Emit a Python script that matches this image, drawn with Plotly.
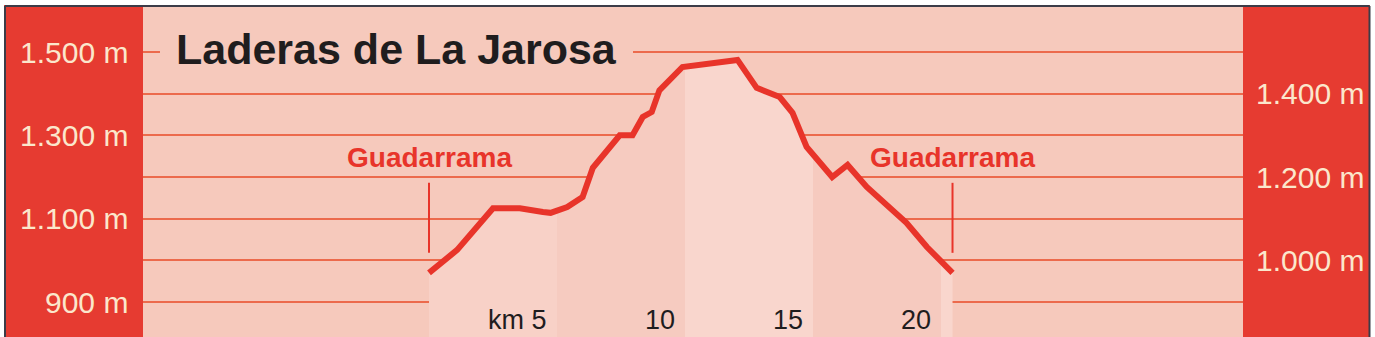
import plotly.graph_objects as go
import numpy as np

# ---- data ----
km = [0.0, 1.1, 2.5, 3.55, 4.45, 4.75, 5.4, 6.0, 6.4, 6.95, 7.45, 7.95, 8.35, 8.7,
      9.0, 9.9, 12.05, 12.8, 13.7, 14.2, 14.75, 15.75, 16.35, 17.1, 18.65, 19.45, 20.45]
elev = [970, 1025, 1125, 1125, 1116, 1114, 1128, 1152, 1222, 1265, 1300, 1300, 1344, 1356,
        1408, 1464, 1481, 1414, 1392, 1354, 1272, 1200, 1229, 1176, 1090, 1032, 970]

left_ticks = [900, 1100, 1300, 1500]
left_labels = ["900 m", "1.100 m", "1.300 m", "1.500 m"]
right_ticks = [1000, 1200, 1400]
right_labels = ["1.000 m", "1.200 m", "1.400 m"]
grid_vals = [900, 1000, 1100, 1200, 1300, 1400, 1500]
km_ticks = [5, 10, 15, 20]
km_labels = ["km 5", "10", "15", "20"]
band_edges = [0, 5, 10, 15, 20]
title = "Laderas de La Jarosa"
town = "Guadarrama"

# ---- styles ----
RED = "#e63b31"
PINK_BG = "#f6c9bc"
BAND_COLORS = ["#f8d1c7", "#f6cbc0", "#f9d6cd", "#f6cabf", "#f9d6cd"]
GRID = "#ec6a4c"
LINE = "#e8342a"
CREAM = "#fbe7cc"
SANS = "Liberation Sans, Arial, sans-serif"

W, H = 1375, 337
PX_PER_KM = 25.6
X0_PX = 429.0
PX_PER_M = 250.0 / 600.0
Y1500_PX = 52.0

x_range = [(0 - X0_PX) / PX_PER_KM, (W - X0_PX) / PX_PER_KM]
y_range = [1500 - (H - Y1500_PX) / PX_PER_M, 1500 + Y1500_PX / PX_PER_M]

def px2km(px):
    return (px - X0_PX) / PX_PER_KM

fig = go.Figure()

# filled bands under the profile
kx = np.array(km, dtype=float)
ey = np.array(elev, dtype=float)
edges = list(band_edges) + [km[-1]]
for i in range(len(edges) - 1):
    a, b = edges[i], edges[i + 1]
    if b <= a:
        continue
    inner = (kx > a) & (kx < b)
    xs = [a] + list(kx[inner]) + [b]
    ys = [float(np.interp(a, kx, ey))] + list(ey[inner]) + [float(np.interp(b, kx, ey))]
    fig.add_trace(go.Scatter(x=xs + [b, a], y=ys + [y_range[0] - 50, y_range[0] - 50],
                             fill="toself", fillcolor=BAND_COLORS[i % len(BAND_COLORS)],
                             line=dict(width=0), mode="lines", hoverinfo="skip",
                             showlegend=False))

# profile line
fig.add_trace(go.Scatter(x=km, y=elev, mode="lines",
                         line=dict(color=LINE, width=6), showlegend=False))

shapes = []
# title background box (hides the 1500 gridline behind the title)
shapes.append(dict(type="rect", xref="x", yref="y", layer="between",
                   x0=px2km(160), x1=px2km(633), y0=1500 - 25 / PX_PER_M, y1=1500 + 25 / PX_PER_M,
                   fillcolor=PINK_BG, line=dict(width=0)))
# red side panels
shapes.append(dict(type="rect", xref="x", yref="paper", layer="above",
                   x0=x_range[0], x1=px2km(143), y0=0, y1=1, fillcolor=RED, line=dict(width=0)))
shapes.append(dict(type="rect", xref="x", yref="paper", layer="above",
                   x0=px2km(1243), x1=x_range[1], y0=0, y1=1, fillcolor=RED, line=dict(width=0)))
# outer white margin + frame
shapes.append(dict(type="rect", xref="paper", yref="paper", layer="above",
                   x0=0, x1=4 / W, y0=0, y1=1, fillcolor="white", line=dict(width=0)))
shapes.append(dict(type="rect", xref="paper", yref="paper", layer="above",
                   x0=1370 / W, x1=1, y0=0, y1=1, fillcolor="white", line=dict(width=0)))
shapes.append(dict(type="rect", xref="paper", yref="paper", layer="above",
                   x0=0, x1=1, y0=1 - 5 / H, y1=1, fillcolor="white", line=dict(width=0)))
shapes.append(dict(type="line", xref="paper", yref="paper", layer="above",
                   x0=5 / W, x1=1369.5 / W, y0=1 - 6 / H, y1=1 - 6 / H,
                   line=dict(color="#3c3c48", width=2)))
shapes.append(dict(type="line", xref="paper", yref="paper", layer="above",
                   x0=5 / W, x1=5 / W, y0=0, y1=1 - 6 / H, line=dict(color="#3c3c48", width=2)))
shapes.append(dict(type="line", xref="paper", yref="paper", layer="above",
                   x0=1369.5 / W, x1=1369.5 / W, y0=0, y1=1 - 6 / H,
                   line=dict(color="#3c3c48", width=2)))
# Guadarrama markers at start and end of route
for kk in (km[0], km[-1]):
    shapes.append(dict(type="line", xref="x", yref="y", layer="above",
                       x0=kk, x1=kk, y0=1018, y1=1186, line=dict(color=LINE, width=2)))

annotations = []
annotations.append(dict(x=px2km(174), y=1500 + 3 / PX_PER_M, xref="x", yref="y",
                        text="<b>" + title + "</b>", showarrow=False, xanchor="left",
                        yanchor="middle", font=dict(family=SANS, size=43, color="#1f1d1e")))
for kk in (km[0], km[-1]):
    annotations.append(dict(x=kk, y=1248, xref="x", yref="y", text="<b>" + town + "</b>",
                            showarrow=False, xanchor="center", yanchor="middle",
                            font=dict(family=SANS, size=28, color=LINE)))
for v, t in zip(left_ticks, left_labels):
    annotations.append(dict(x=px2km(130), y=v, xref="x", yref="y", text=t, showarrow=False,
                            xanchor="right", yanchor="middle",
                            font=dict(family=SANS, size=30, color=CREAM)))
for v, t in zip(right_ticks, right_labels):
    annotations.append(dict(x=px2km(1366), y=v, xref="x", yref="y", text=t, showarrow=False,
                            xanchor="right", yanchor="middle",
                            font=dict(family=SANS, size=30, color=CREAM)))
for v, t in zip(km_ticks, km_labels):
    annotations.append(dict(x=v, y=y_range[0], xref="x", yref="y", text=t, showarrow=False,
                            xanchor="right", yanchor="bottom", xshift=-8, yshift=0,
                            font=dict(family=SANS, size=27, color="#1f1d1e")))

fig.update_layout(
    width=W, height=H, margin=dict(l=0, r=0, t=0, b=0),
    paper_bgcolor="white", plot_bgcolor=PINK_BG,
    xaxis=dict(range=x_range, showgrid=False, zeroline=False, showticklabels=False,
               fixedrange=True),
    yaxis=dict(range=y_range, tickvals=grid_vals, showgrid=True, gridcolor=GRID, gridwidth=2,
               zeroline=False, showticklabels=False, fixedrange=True),
    shapes=shapes, annotations=annotations, showlegend=False,
)

fig.write_html("out.html", config={"displayModeBar": False})
